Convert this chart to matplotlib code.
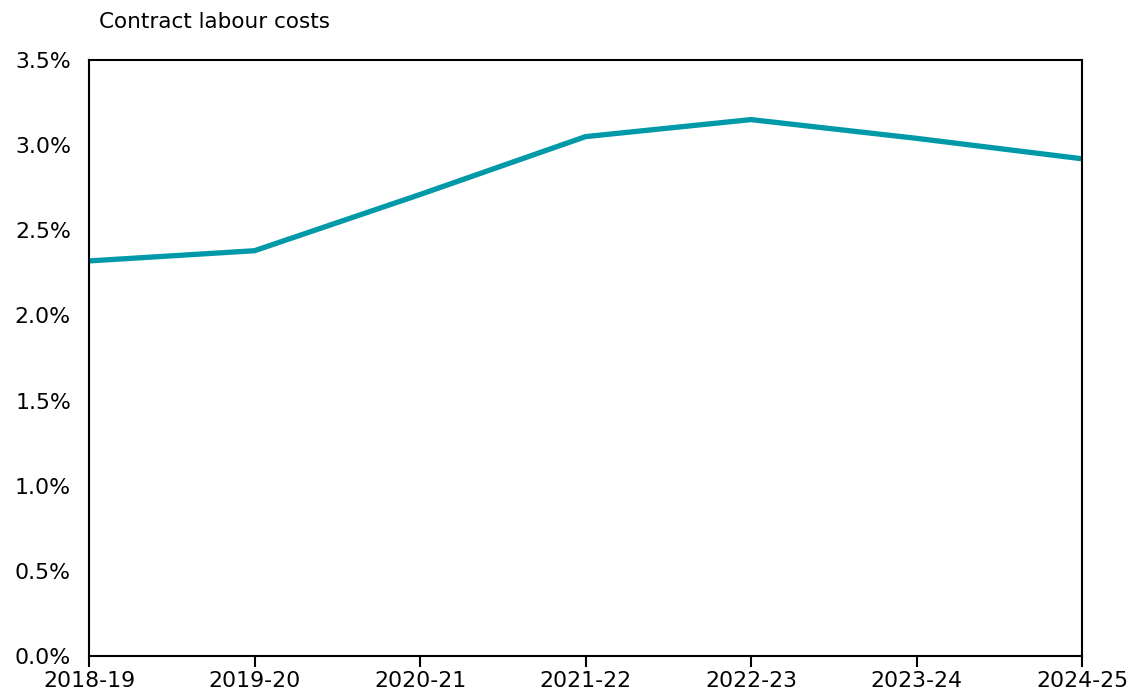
import matplotlib
matplotlib.use("Agg")
import matplotlib.pyplot as plt
from matplotlib.ticker import FuncFormatter

years = ["2018-19", "2019-20", "2020-21", "2021-22", "2022-23", "2023-24", "2024-25"]
contract_labour_pct = [2.32, 2.38, 2.71, 3.05, 3.15, 3.04, 2.92]

plt.rcParams["font.family"] = ["DejaVu Sans"]

fig = plt.figure(figsize=(11.33, 6.95), dpi=100)
ax = fig.add_axes([89 / 1133, 39 / 695, (1082 - 89) / 1133, (656 - 60) / 695])

x = list(range(len(years)))
ax.plot(x, contract_labour_pct, color="#0099a8", linewidth=3.8, solid_capstyle="butt")

ax.set_xlim(0, len(years) - 1)
ax.set_ylim(0, 3.5)
ax.set_xticks(x)
ax.set_xticklabels(years)
ax.set_yticks([0, 0.5, 1.0, 1.5, 2.0, 2.5, 3.0, 3.5])
ax.yaxis.set_major_formatter(FuncFormatter(lambda v, _: f"{v:.1f}%"))

ax.tick_params(axis="x", direction="out", length=8, width=1.5, labelsize=15.8, pad=3, colors="black")
ax.tick_params(axis="y", length=0, labelsize=15.8, pad=13)
for s in ax.spines.values():
    s.set_linewidth(1.5)
    s.set_color("black")

fig.text(99 / 1133, 1 - 22 / 695, "Contract labour costs", fontsize=15.5, va="center", ha="left")

fig.savefig("out.png", dpi=100)
